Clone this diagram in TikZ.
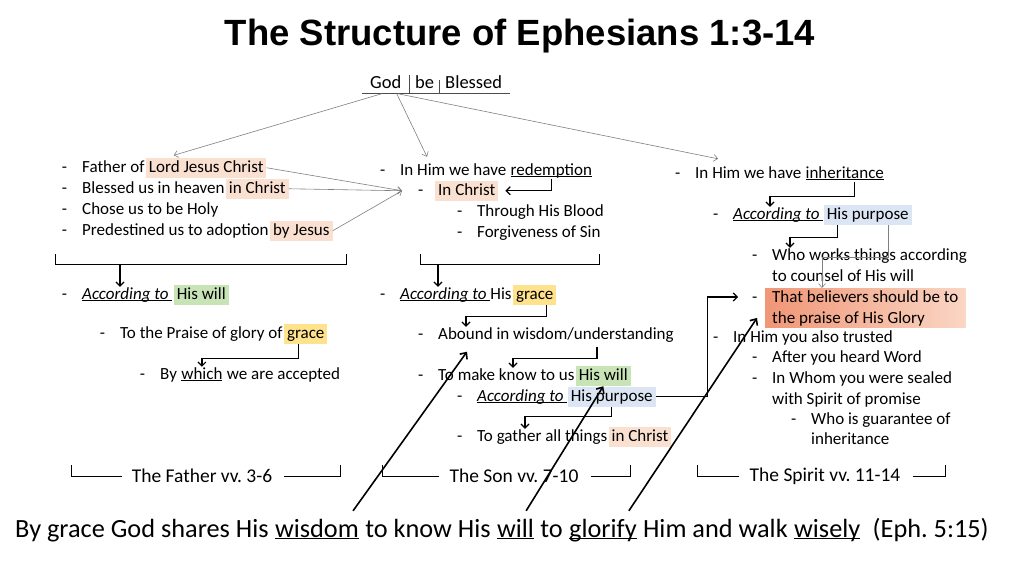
\documentclass[tikz,border=0pt]{standalone}
\usepackage{fontspec}
\setmainfont{Carlito}
\newfontfamily\headfont{Liberation Sans}
\usetikzlibrary{arrows.meta}
\usetikzlibrary{positioning}
\frenchspacing

\definecolor{peach}{RGB}{250,224,208}
\definecolor{leaf}{RGB}{200,228,182}
\definecolor{butter}{RGB}{255,226,140}
\definecolor{sky}{RGB}{220,229,244}
\definecolor{salmonA}{RGB}{240,150,118}
\definecolor{salmonB}{RGB}{250,214,196}

\newcommand{\dash}{\llap{-\hspace{15pt}}}
\newcommand{\ul}[1]{\underline{\smash{#1}}}
\newcommand{\acc}{\ul{\textit{According to}~}}

\tikzset{
  body/.style={font=\fontsize{17}{21}\selectfont, inner sep=0pt},
  txt/.style={body, text height=12pt, text depth=3.5pt, anchor=base west},
  hl/.style={txt, fill=#1, inner xsep=3pt, inner ysep=2.5pt},
  gline/.style={draw=gray, line width=0.6pt, -{Straight Barb[length=4pt,width=7pt]}},
  elbow/.style={draw=black, line width=1.2pt, -{Straight Barb[length=4pt,width=8pt]}},
  bigarrow/.style={draw=black, line width=1.6pt, -{Straight Barb[length=5pt,width=9pt]}},
  brk/.style={draw=black, line width=1pt},
  tag/.style={font=\fontsize{19.5}{22}\selectfont, inner sep=0pt},
  btm/.style={font=\fontsize{26.3}{30}\selectfont, inner sep=0pt, text height=18pt, text depth=6pt},
  godtxt/.style={txt, font=\fontsize{18.5}{22}\selectfont},
}

\begin{document}
\begin{tikzpicture}[x=1pt,y=-1pt]
  \useasboundingbox[fill=white] (0,0) rectangle (1024,560);

  % title
  \node[font=\headfont\bfseries\fontsize{36.5}{40}\selectfont] (title) at (520,36) {The Structure of Ephesians 1:3-14};

  % God | be | Blessed
  \node[godtxt] (god) at (370,88) {God};
  \node[godtxt] (be) at (415,88) {be};
  \node[godtxt] (bls) at (445,88) {Blessed};
  \draw[gray!60!black, line width=0.7pt] (362,93) -- (510,93);
  \draw[gray!60!black, line width=0.7pt] (409,75) -- (409,93);
  \draw[gray!60!black, line width=0.7pt] (439,80) -- (439,93);

  % the Father
  \node[txt] (l1) at (82,172) {\dash Father of};
  \node[hl=peach, right=1pt of l1] (ljc) {Lord Jesus Christ};
  \node[txt] (l2) at (82,193) {\dash Blessed us in heaven};
  \node[hl=peach, right=1pt of l2] (inc1) {in Christ};
  \node[txt] (l3) at (82,214) {\dash Chose us to be Holy};
  \node[txt] (l4) at (82,235) {\dash Predestined us to adoption};
  \node[hl=peach, right=1pt of l4] (byj) {by Jesus};
  \draw[brk] (55,254) |- (346,264) -- (346,254);
  \coordinate (bk1) at (120,264);
  \node[txt] (l5) at (82,299) {\dash\acc};
  \node[hl=leaf, right=1pt of l5] (hw1) {His will};
  \node[txt] (l6) at (120,338) {\dash To the Praise of glory of};
  \node[hl=butter, right=1pt of l6] (gr1) {grace};
  \node[txt] (l7) at (160,379) {\dash By};
  \node[txt, right=4pt of l7] (wh) {\ul{which}};
  \node[txt, right=4pt of wh] (l7b) {we are accepted};

  % the Son
  \node[txt] (m1) at (400,175) {\dash In Him we have};
  \node[txt, right=4pt of m1] (red) {\ul{redemption}};
  \node[hl=peach] (inc2) at (435,195) {\dash In Christ};
  \node[txt] (m3) at (477,216) {\dash Through His Blood};
  \node[txt] (m4) at (477,237) {\dash Forgiveness of Sin};
  \draw[brk] (420,254) |- (599,264) -- (599,254);
  \coordinate (bk2) at (438,264);
  \node[txt] (m5) at (400,299) {\dash\acc His};
  \node[hl=butter, right=1pt of m5] (gr2) {grace};
  \node[txt] (m6) at (438,339) {\dash Abound in wisdom/understanding};
  \node[txt] (m7) at (438,380) {\dash To make know to us};
  \node[hl=leaf, right=1pt of m7] (hw2) {His will};
  \node[txt] (m8) at (477,401) {\dash\acc};
  \node[hl=sky, right=0pt of m8] (hp1) {His purpose};
  \node[txt] (m9) at (477,441) {\dash To gather all things};
  \node[hl=peach, right=1pt of m9] (inc3) {in Christ};

  % the Spirit
  \node[txt] (r1) at (695,178) {\dash In Him we have};
  \node[txt, right=4pt of r1] (inh) {\ul{inheritance}};
  \node[txt] (r2) at (733,219) {\dash\acc};
  \node[hl=sky, right=0pt of r2] (hp2) {His purpose};
  \node[txt] (r3) at (772,260) {\dash Who works things according};
  \node[txt] (r4) at (772,281) {to counsel of His will};
  \node[body, align=left, anchor=north west, inner xsep=7pt, inner ysep=2pt,
        left color=salmonA, right color=salmonB] (bel) at (765,288)
        {\dash That believers should be to\\the praise of His Glory};
  \node[txt] (r6) at (733,342) {\dash In Him you also trusted};
  \node[txt] (r7) at (772,362) {\dash After you heard Word};
  \node[txt] (r8) at (772,383) {\dash In Whom you were sealed};
  \node[txt] (r9) at (772,404) {with Spirit of promise};
  \node[txt] (r10) at (811,424) {\dash Who is guarantee of};
  \node[txt] (r11) at (811,444) {inheritance};

  % section labels
  \node[tag] (fa) at (202,476) {The Father vv. 3-6};
  \node[tag] (so) at (514,476) {The Son vv. 7-10};
  \node[tag] (sp) at (825,476) {The Spirit vv. 11-14};
  \draw[brk] ([xshift=-10pt]fa.west) -- ++(-50,0) -- ++(0,-11);
  \draw[brk] ([xshift=12pt]fa.east) -- ++(56,0) -- ++(0,-11);
  \draw[brk] ([xshift=-10pt]so.west) -- ++(-57,0) -- ++(0,-11);
  \draw[brk] ([xshift=12pt]so.east) -- ++(40,0) -- ++(0,-11);
  \draw[brk] ([xshift=-10pt]sp.west) -- ++(-42,0) -- ++(0,-11);
  \draw[brk] ([xshift=12pt]sp.east) -- ++(33,0) -- ++(0,-11);

  % bottom line
  \node[btm, anchor=base west] (b1) at (15,537) {By grace God shares His};
  \node[btm, right=6pt of b1] (wis) {\ul{wisdom}};
  \node[btm, right=6pt of wis] (b2) {to know His};
  \node[btm, right=6pt of b2] (wil) {\ul{will}};
  \node[btm, right=6pt of wil] (b3) {to};
  \node[btm, right=6pt of b3] (glo) {\ul{glorify}};
  \node[btm, right=6pt of glo] (b4) {Him and walk};
  \node[btm, right=6pt of b4] (wise) {\ul{wisely}};
  \node[btm, right=12pt of wise] (eph) {(Eph. 5:15)};

  % thin grey arrows
  \draw[gline] ([xshift=-4pt,yshift=-2pt]god.south) -- ([xshift=28pt,yshift=2pt]ljc.north west);
  \draw[gline] ([xshift=11pt,yshift=-2pt]god.south) -- ([xshift=27pt,yshift=6pt]m1.north west);
  \draw[gline] ([xshift=12pt,yshift=-2pt]god.south) -- ([xshift=23pt,yshift=7pt]r1.north west);
  \foreach \src in {ljc,inc1,byj}
    \draw[gline] (\src.east) -- ([xshift=-33pt]inc2.west);
  \draw[gline] ([xshift=21pt]hp2.south) -- ++(0,32) -| ([xshift=57pt]bel.north west);

  % elbow arrows
  \draw[elbow] (bk1) -- (bk1 |- l5.north);
  \draw[elbow] ([xshift=-7pt]gr1.south) -- ++(0,14) -| (wh.north);
  \draw[elbow] (red.south) |- ([xshift=7pt]inc2.east);
  \draw[elbow] (bk2) -- (bk2 |- m5.north);
  \draw[elbow] ([xshift=12pt]gr2.south) -- ++(0,11) -| ([xshift=28pt]m6.north west);
  \draw[elbow] ([xshift=159pt,yshift=-4pt]m6.south west) -- ++(0,12) -| ([xshift=75pt]m7.north west);
  \draw[elbow] (hp1.south) -- ++(0,9) -| ([xshift=48pt]m9.north west);
  \draw[elbow] (hp1.east) -- ++(52,0) |- ([xshift=-27pt,yshift=-9pt]bel.north west);
  \draw[elbow] ([xshift=10pt]inh.south) -- ++(0,15) -| ([xshift=37pt]r2.north west);
  \draw[elbow] ([xshift=-30pt]hp2.south) -- ++(0,12) -| ([xshift=18pt]r3.north west);

  % long arrows from the summary
  \draw[bigarrow] ([shift={(-6pt,8pt)}]wis.north east) -- ([xshift=29pt,yshift=-9pt]m6.south west);
  \draw[bigarrow] ([shift={(-8pt,8pt)}]wil.north east) -- (hw2.south);
  \draw[bigarrow] ([shift={(-8pt,8pt)}]glo.north east) -- ([xshift=-8pt,yshift=10pt]bel.south west);
\end{tikzpicture}
\end{document}
